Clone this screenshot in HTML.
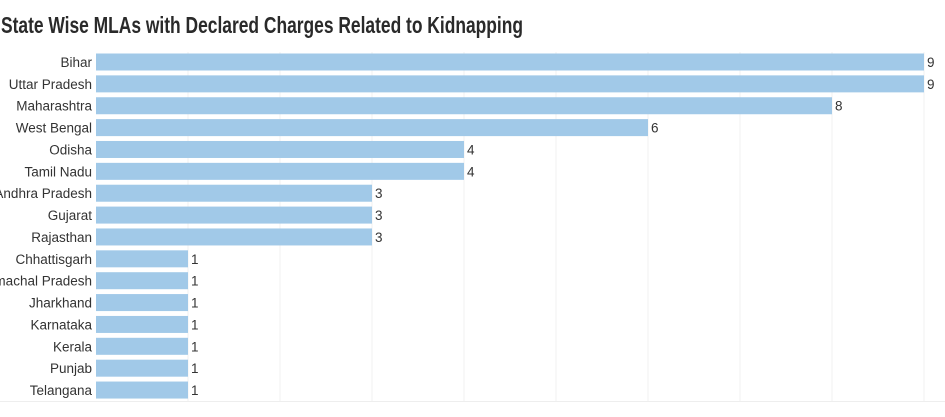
<!DOCTYPE html>
<html><head><meta charset="utf-8"><style>
body{margin:0;background:#fff;width:945px;height:412px;overflow:hidden}
svg text{font-family:"Liberation Sans Narrow","Liberation Sans",sans-serif;fill:#333}
</style></head><body>
<svg id="chart" width="945" height="412">
<text x="1" y="33" font-size="23" font-weight="bold" style="fill:#2a2a2a" textLength="522" lengthAdjust="spacingAndGlyphs">State Wise MLAs with Declared Charges Related to Kidnapping</text>
<g id="grid"></g><g id="bars"></g>
</svg>
<script>
const categories=["Bihar","Uttar Pradesh","Maharashtra","West Bengal","Odisha","Tamil Nadu","Andhra Pradesh","Gujarat","Rajasthan","Chhattisgarh","Himachal Pradesh","Jharkhand","Karnataka","Kerala","Punjab","Telangana"];
const values=[9,9,8,6,4,4,3,3,3,1,1,1,1,1,1,1];
const gridTicks=[1,2,3,4,5,6,7,8,9];
const NS="http://www.w3.org/2000/svg";
const x0=96,unit=92,y0=62,step=21.87,bh=17;
const xs=v=>x0+v*unit, ys=i=>y0+i*step;
const grid=document.getElementById('grid'),bars=document.getElementById('bars');
function mk(t,a,p){const e=document.createElementNS(NS,t);for(const k in a)e.setAttribute(k,a[k]);p.appendChild(e);return e;}
gridTicks.forEach(t=>{
 const l=mk('line',{x1:xs(t),x2:xs(t),y1:52,y2:402,stroke:'#f0f0f0','stroke-width':1},grid);
 
 
});
const base=mk('line',{x1:0,x2:945,y1:401.5,y2:401.5,stroke:'#eee'},grid);


categories.forEach((c,i)=>{
 const y=ys(i);
 const r=mk('rect',{x:x0,y:y-bh/2,width:xs(values[i])-x0,height:bh,fill:'#a1c9e8'},bars);
 
 
 const t=mk('text',{x:92,y:y+5,'text-anchor':'end','font-size':13.5},bars);t.textContent=c;
 
 
 const v=mk('text',{x:xs(values[i])+3,y:y+5,'font-size':13.5},bars);v.textContent=values[i];
 
 
});
</script>
</body></html>
